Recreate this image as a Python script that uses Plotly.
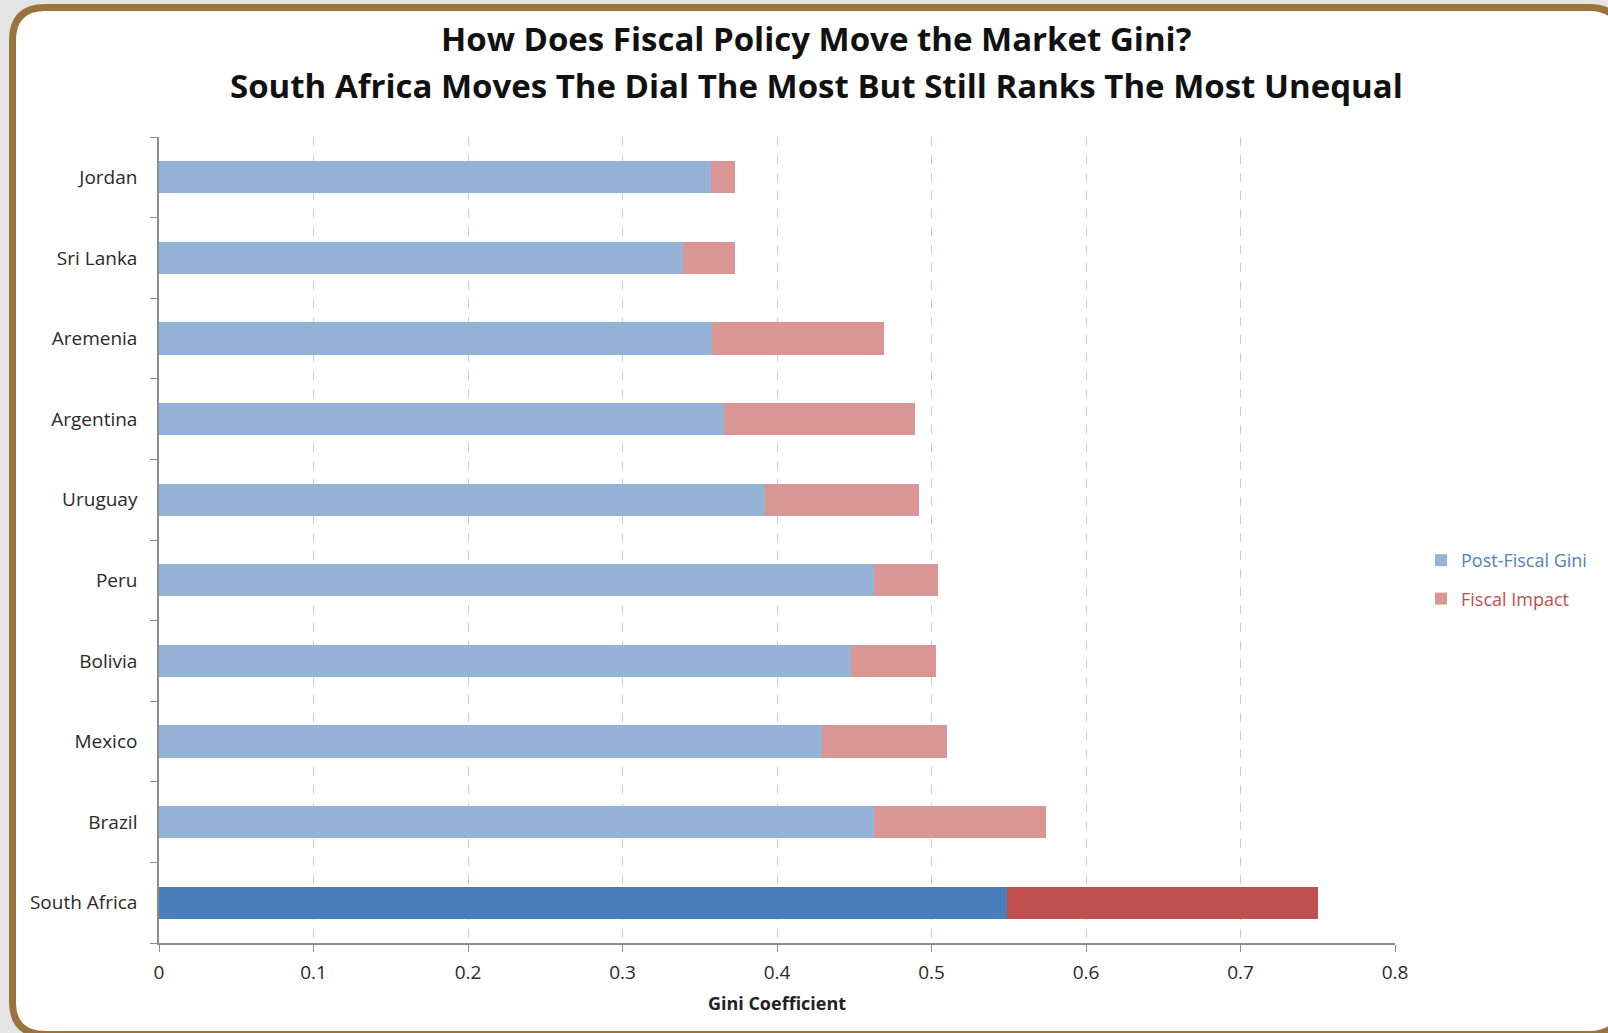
import plotly.graph_objects as go

# Countries, listed top to bottom
countries = ["Jordan", "Sri Lanka", "Aremenia", "Argentina", "Uruguay",
             "Peru", "Bolivia", "Mexico", "Brazil", "South Africa"]
post_fiscal_gini = [0.357, 0.339, 0.358, 0.366, 0.392, 0.463, 0.448, 0.429, 0.463, 0.549]
fiscal_impact = [0.016, 0.034, 0.111, 0.123, 0.100, 0.041, 0.055, 0.081, 0.111, 0.201]
x_ticks = [0, 0.1, 0.2, 0.3, 0.4, 0.5, 0.6, 0.7, 0.8]
x_tick_labels = ["0", "0.1", "0.2", "0.3", "0.4", "0.5", "0.6", "0.7", "0.8"]

BLUE_DARK, BLUE_LIGHT = "#4a7ebb", "#95b3d7"
RED_DARK, RED_LIGHT = "#c0504d", "#d99694"
highlight = "South Africa"

blue_colors = [BLUE_DARK if c == highlight else BLUE_LIGHT for c in countries]
red_colors = [RED_DARK if c == highlight else RED_LIGHT for c in countries]

W, H = 1608, 1033
ML, MR, MT, MB = 159, 213, 137, 90
PW, PH = W - ML - MR, H - MT - MB

FONT = "Open Sans"

fig = go.Figure()
fig.add_trace(go.Bar(
    y=countries, x=post_fiscal_gini, orientation="h",
    name="<span style='color:#4f81bd'>Post-Fiscal Gini</span>",
    marker=dict(color=blue_colors, line=dict(width=0)),
    legendgroup="a",
))
fig.add_trace(go.Bar(
    y=countries, x=fiscal_impact, orientation="h",
    name="<span style='color:#c0504d'>Fiscal Impact</span>",
    marker=dict(color=red_colors, line=dict(width=0)),
    legendgroup="b",
))


def px_x(p):
    return (p - ML) / PW


def px_y(p):
    return (H - MB - p) / PH


# Rounded frame around the chart
L, T, R, B, r = 12.5, 7.5, 1622, 1034.5, 33
pts = [
    ("M", (L + r, T)), ("L", (R - r, T)), ("Q", (R, T), (R, T + r)),
    ("L", (R, B - r)), ("Q", (R, B), (R - r, B)),
    ("L", (L + r, B)), ("Q", (L, B), (L, B - r)),
    ("L", (L, T + r)), ("Q", (L, T), (L + r, T)),
]
path = ""
for item in pts:
    cmd, coords = item[0], item[1:]
    path += cmd + " " + " ".join(f"{px_x(x):.5f},{px_y(y):.5f}" for x, y in coords) + " "
path += "Z"

fig.update_layout(
    width=W, height=H,
    margin=dict(l=ML, r=MR, t=MT, b=MB, autoexpand=False),
    paper_bgcolor="#e4e4e4",
    plot_bgcolor="rgba(0,0,0,0)",
    barmode="stack",
    bargap=0.6,
    font=dict(family=FONT, color="#333333"),
    shapes=[dict(type="path", xref="paper", yref="paper", path=path,
                 fillcolor="white", line=dict(color="#9a733f", width=7),
                 layer="below")],
    annotations=[
        dict(text="<b>How Does Fiscal Policy Move the Market Gini?</b>",
             xref="paper", yref="paper", x=px_x(816), y=px_y(38),
             xanchor="center", yanchor="middle", showarrow=False,
             font=dict(family=FONT, size=33, color="#111111")),
        dict(text="<b>South Africa Moves The Dial The Most But Still Ranks The Most Unequal</b>",
             xref="paper", yref="paper", x=px_x(816), y=px_y(86),
             xanchor="center", yanchor="middle", showarrow=False,
             font=dict(family=FONT, size=33, color="#111111")),
    ],
    legend=dict(
        x=px_x(1421), y=px_y(542), xanchor="left", yanchor="top",
        traceorder="grouped", tracegroupgap=12,
        font=dict(family=FONT, size=18),
        bgcolor="rgba(0,0,0,0)", itemwidth=30,
    ),
    xaxis=dict(
        range=[0, 0.8], tickvals=x_ticks, ticktext=x_tick_labels,
        showgrid=True, gridcolor="#bdd0e9", griddash="dash", gridwidth=1,
        showline=True, linecolor="#8c8c8c", linewidth=1.5,
        ticks="outside", ticklen=7, tickcolor="#8c8c8c",
        ticklabelstandoff=4,
        tickfont=dict(family=FONT, size=19, color="#2a2a2a"),
        title=dict(text="<b>Gini Coefficient</b>", standoff=14,
                   font=dict(family=FONT, size=18, color="#222222")),
        zeroline=False,
    ),
    yaxis=dict(
        categoryorder="array", categoryarray=countries[::-1],
        showline=True, linecolor="#8c8c8c", linewidth=1.5,
        ticks="outside", ticklen=7, tickcolor="#8c8c8c", tickson="boundaries",
        ticklabelstandoff=16,
        tickfont=dict(family=FONT, size=19, color="#2a2a2a"),
        showgrid=False,
    ),
)

fig.write_html("out.html")
